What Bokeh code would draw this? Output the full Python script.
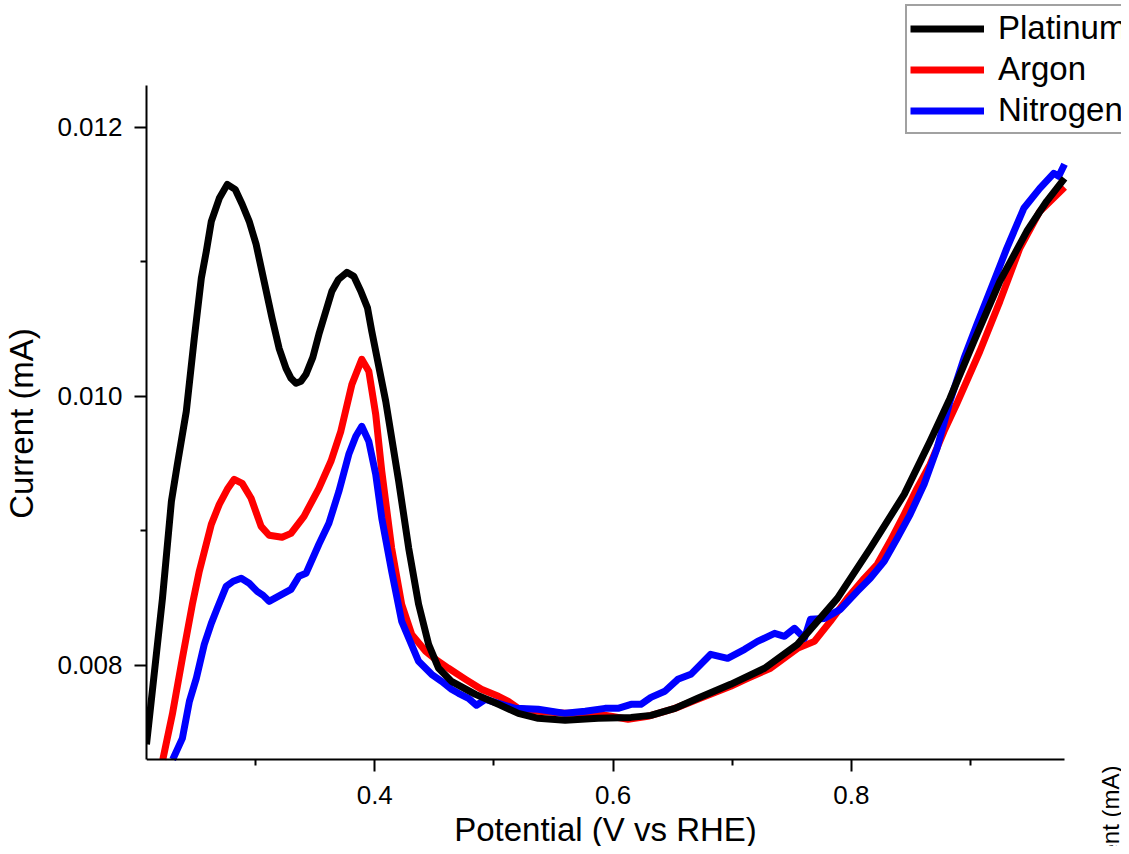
from math import pi
from bokeh.plotting import figure
from bokeh.models import Range1d, FixedTicker, PrintfTickFormatter, Legend, LegendItem, Label
from bokeh.embed import file_html
from bokeh.resources import INLINE

# ---- data (V vs RHE, mA) ----
platinum_v = [0.2084, 0.2218, 0.2293, 0.2343, 0.2418, 0.2485, 0.2544, 0.2586, 0.2628, 0.2695, 0.2762, 0.2828,
              0.2887, 0.2946, 0.3004, 0.3071, 0.3138, 0.3197, 0.3255, 0.3297, 0.3339, 0.3381, 0.3423, 0.3480,
              0.3531, 0.3640, 0.3696, 0.3766, 0.3824, 0.3883, 0.3939, 0.3975, 0.4092, 0.4201, 0.4285, 0.4368,
              0.4452, 0.4536, 0.4644, 0.4845, 0.5038, 0.5205, 0.5372, 0.5598, 0.5874, 0.6151, 0.6318, 0.6519,
              0.6711, 0.6987, 0.7272, 0.7548, 0.7883, 0.8159, 0.8444, 0.8661, 0.8828, 0.9029, 0.9247, 0.9473,
              0.9640, 0.9790]
platinum_i = [0.007413, 0.008498, 0.009219, 0.009494, 0.009888, 0.010431, 0.010877, 0.011078, 0.011301, 0.011472,
              0.011576, 0.011539, 0.011428, 0.011301, 0.011130, 0.010855, 0.010580, 0.010357, 0.010208, 0.010134,
              0.010097, 0.010112, 0.010164, 0.010290, 0.010461, 0.010781, 0.010870, 0.010922, 0.010892, 0.010781,
              0.010658, 0.010483, 0.009963, 0.009368, 0.008870, 0.008454, 0.008156, 0.007978, 0.007881, 0.007784,
              0.007710, 0.007643, 0.007606, 0.007591, 0.007606, 0.007613, 0.007628, 0.007680, 0.007755, 0.007859,
              0.007978, 0.008156, 0.008498, 0.008870, 0.009271, 0.009665, 0.009985, 0.010409, 0.010855, 0.011227,
              0.011450, 0.011620]

argon_v = [0.2221, 0.2301, 0.2385, 0.2469, 0.2527, 0.2628, 0.2695, 0.2762, 0.2820, 0.2887, 0.2962, 0.3046,
           0.3113, 0.3222, 0.3297, 0.3406, 0.3531, 0.3632, 0.3715, 0.3808, 0.3891, 0.3950, 0.4008, 0.4059,
           0.4142, 0.4226, 0.4310, 0.4427, 0.4510, 0.4619, 0.4762, 0.4895, 0.5038, 0.5121, 0.5205, 0.5372,
           0.5598, 0.5766, 0.5874, 0.5983, 0.6126, 0.6293, 0.6519, 0.6711, 0.6987, 0.7130, 0.7322, 0.7548,
           0.7690, 0.7824, 0.7967, 0.8109, 0.8218, 0.8326, 0.8444, 0.8552, 0.8661, 0.8778, 0.8887, 0.9079,
           0.9247, 0.9414, 0.9582, 0.9790]
argon_i = [0.007300, 0.007636, 0.008052, 0.008454, 0.008699, 0.009048, 0.009197, 0.009309, 0.009383, 0.009353,
           0.009242, 0.009033, 0.008967, 0.008952, 0.008981, 0.009108, 0.009316, 0.009517, 0.009740, 0.010089,
           0.010275, 0.010186, 0.009866, 0.009442, 0.008870, 0.008454, 0.008230, 0.008104, 0.008045, 0.007978,
           0.007896, 0.007822, 0.007770, 0.007732, 0.007680, 0.007658, 0.007643, 0.007643, 0.007636, 0.007621,
           0.007599, 0.007621, 0.007680, 0.007747, 0.007844, 0.007903, 0.007978, 0.008126, 0.008178, 0.008327,
           0.008498, 0.008647, 0.008751, 0.008922, 0.009123, 0.009316, 0.009494, 0.009740, 0.009948, 0.010335,
           0.010706, 0.011100, 0.011375, 0.011555]

nitrogen_v = [0.2304, 0.2385, 0.2444, 0.2502, 0.2569, 0.2628, 0.2678, 0.2753, 0.2812, 0.2879, 0.2946, 0.3013,
              0.3063, 0.3113, 0.3205, 0.3297, 0.3364, 0.3423, 0.3531, 0.3615, 0.3699, 0.3782, 0.3841, 0.3891,
              0.3950, 0.4008, 0.4059, 0.4142, 0.4226, 0.4368, 0.4477, 0.4561, 0.4644, 0.4703, 0.4787, 0.4854,
              0.4929, 0.5038, 0.5180, 0.5372, 0.5598, 0.5766, 0.5933, 0.6042, 0.6151, 0.6234, 0.6318, 0.6435,
              0.6544, 0.6653, 0.6820, 0.6962, 0.7105, 0.7213, 0.7356, 0.7439, 0.7523, 0.7607, 0.7657, 0.7774,
              0.7908, 0.8050, 0.8159, 0.8276, 0.8385, 0.8494, 0.8611, 0.8720, 0.8828, 0.8946, 0.9054, 0.9197,
              0.9305, 0.9448, 0.9582, 0.9699, 0.9741, 0.9790]
nitrogen_i = [0.007300, 0.007457, 0.007732, 0.007903, 0.008156, 0.008312, 0.008424, 0.008587, 0.008625, 0.008647,
              0.008610, 0.008550, 0.008520, 0.008476, 0.008520, 0.008565, 0.008662, 0.008684, 0.008900, 0.009056,
              0.009294, 0.009569, 0.009703, 0.009777, 0.009665, 0.009420, 0.009093, 0.008699, 0.008327, 0.008030,
              0.007933, 0.007881, 0.007822, 0.007792, 0.007755, 0.007703, 0.007747, 0.007717, 0.007680, 0.007673,
              0.007643, 0.007658, 0.007680, 0.007680, 0.007710, 0.007710, 0.007762, 0.007807, 0.007896, 0.007933,
              0.008082, 0.008052, 0.008119, 0.008178, 0.008238, 0.008216, 0.008275, 0.008201, 0.008342, 0.008349,
              0.008416, 0.008550, 0.008647, 0.008773, 0.008944, 0.009123, 0.009346, 0.009613, 0.009963, 0.010283,
              0.010535, 0.010855, 0.011100, 0.011398, 0.011546, 0.011658, 0.011636, 0.011725]

series_names = ["Platinum", "Argon", "Nitrogen"]
x_major_ticks = [0.4, 0.6, 0.8]
x_minor_ticks = [0.3, 0.5, 0.7, 0.9]
y_major_ticks = [0.008, 0.010, 0.012]
y_minor_ticks = [0.009, 0.011]
x_axis_span = (0.2084, 0.9790)
y_axis_span = (0.0073, 0.01231)

FONT = "Liberation Sans"

# frame covers the whole figure right of the y axis; drawn axes limited by bounds
p = figure(width=1121, height=846, output_backend="svg", toolbar_location=None,
           x_range=Range1d(0.2084, 1.0268), y_range=Range1d(0.006653, 0.012943),
           min_border_left=143, min_border_right=0, min_border_top=0, min_border_bottom=0,
           x_axis_label="Potential (V vs RHE)", y_axis_label="Current (mA)")
p.outline_line_color = None
p.xgrid.visible = False
p.ygrid.visible = False
p.background_fill_color = "white"
p.border_fill_color = "white"

p.xaxis.ticker = FixedTicker(ticks=x_major_ticks, minor_ticks=x_minor_ticks)
p.yaxis.ticker = FixedTicker(ticks=y_major_ticks, minor_ticks=y_minor_ticks)
p.xaxis.formatter = PrintfTickFormatter(format="%.1f")
p.yaxis.formatter = PrintfTickFormatter(format="%.3f")
p.xaxis.bounds = x_axis_span
p.yaxis.bounds = y_axis_span
p.xaxis.fixed_location = y_axis_span[0]

for ax in (p.xaxis[0], p.yaxis[0]):
    ax.axis_line_width = 2
    ax.axis_line_color = "black"
    ax.major_tick_line_width = 2
    ax.minor_tick_line_width = 2
    ax.major_tick_line_color = "black"
    ax.minor_tick_line_color = "black"
    ax.major_tick_out = 12
    ax.major_tick_in = 0
    ax.minor_tick_out = 6
    ax.minor_tick_in = 0
    ax.major_label_text_font = FONT
    ax.major_label_text_font_size = "26px"
    ax.major_label_text_color = "black"
    ax.axis_label_text_font = FONT
    ax.axis_label_text_font_size = "33px"
    ax.axis_label_text_font_style = "normal"
    ax.axis_label_text_color = "black"

p.xaxis.major_label_standoff = 15
p.xaxis.axis_label_standoff = 3
p.yaxis.major_label_standoff = 12
p.yaxis.axis_label_standoff = 14

r_ar = p.line(argon_v, argon_i, line_color="#ff0000", line_width=7, line_join="round")
r_n2 = p.line(nitrogen_v, nitrogen_i, line_color="#0000ff", line_width=7, line_join="round")
r_pt = p.line(platinum_v, platinum_i, line_color="black", line_width=7, line_join="round")

legend = Legend(items=[LegendItem(label=series_names[0], renderers=[r_pt]),
                       LegendItem(label=series_names[1], renderers=[r_ar]),
                       LegendItem(label=series_names[2], renderers=[r_n2])],
                location=(759, 712),
                border_line_color="#444444", border_line_width=2,
                background_fill_color="white", background_fill_alpha=1.0,
                label_text_font=FONT, label_text_font_size="33px", label_text_color="black",
                glyph_width=74, glyph_height=37, label_height=37, label_width=150,
                spacing=3, padding=3, margin=0, label_standoff=14)
p.add_layout(legend, "center")

cut_title = Label(x=964, y=81, x_units="screen", y_units="screen", text="Current (mA)",
                  angle=pi / 2, text_align="right", text_baseline="alphabetic",
                  text_font=FONT, text_font_size="24px", text_color="black")
p.add_layout(cut_title)

open("out.html", "w").write(file_html(p, INLINE))
